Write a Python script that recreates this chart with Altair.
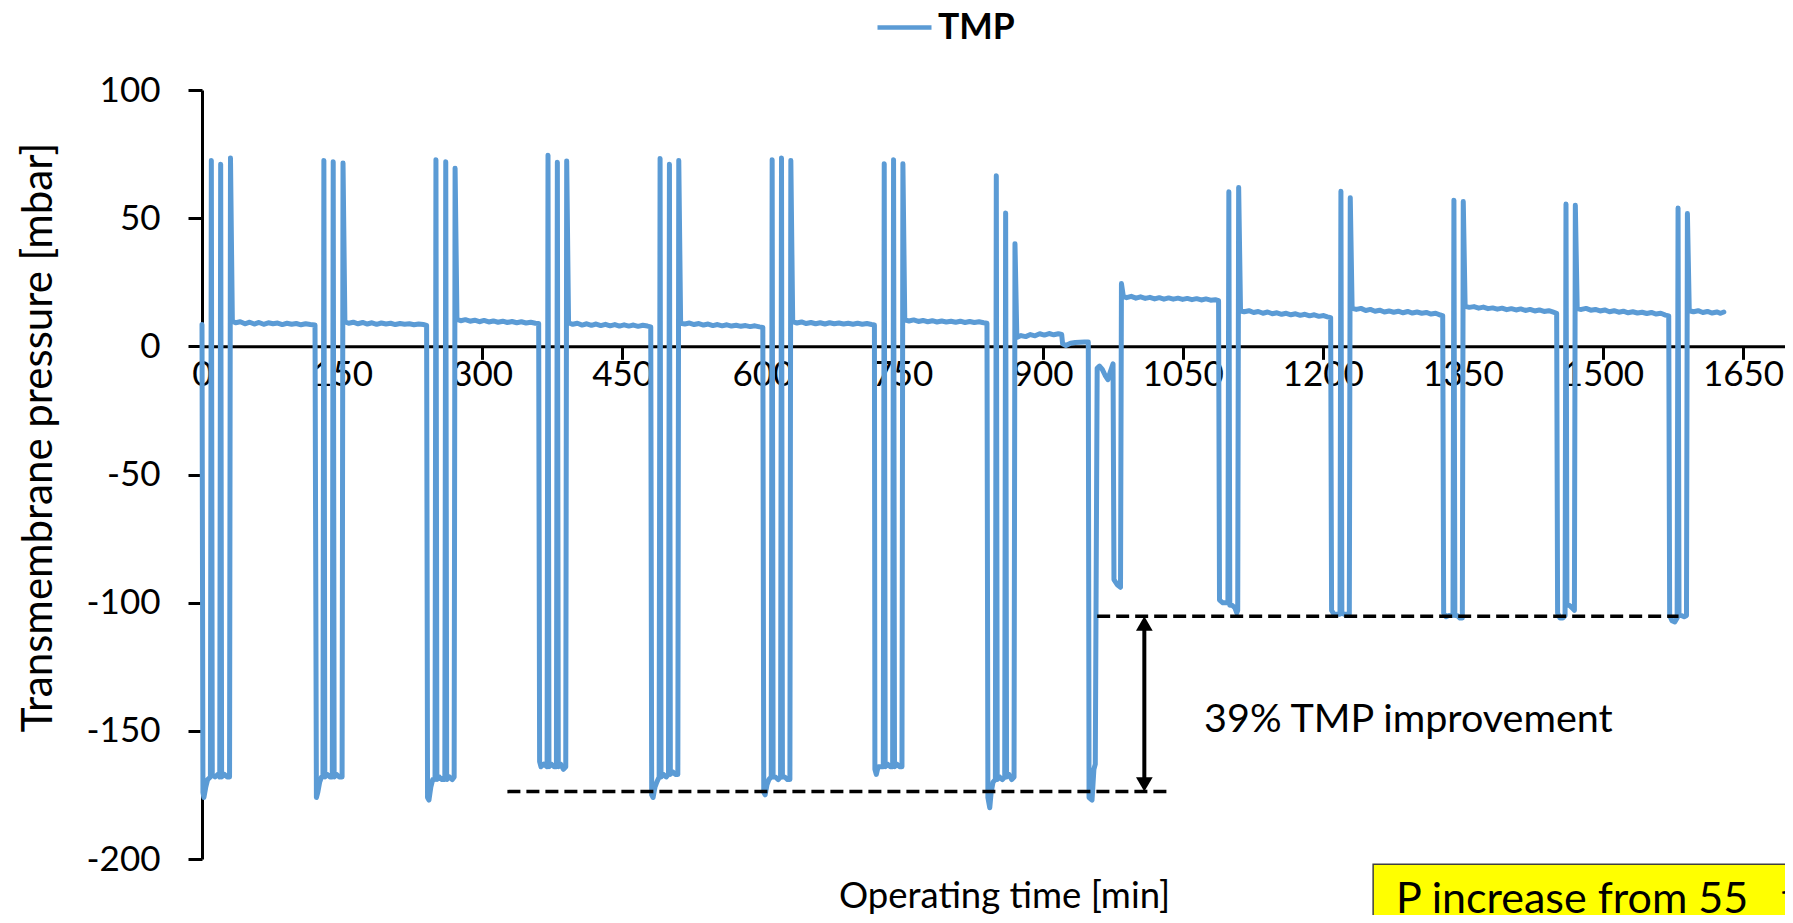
import altair as alt
import pandas as pd

# ---------------- data ----------------
x_ticks = [0, 150, 300, 450, 600, 750, 900, 1050, 1200, 1350, 1500, 1650]
y_ticks = [-200, -150, -100, -50, 0, 50, 100]

c1_t = [0, 1, 2, 4, 6, 9, 10, 11, 14, 17, 19, 20, 21, 24, 27, 29.5, 30.5, 32.5,
        36, 41, 46, 51, 56, 61, 66, 71, 76, 81, 86, 91, 96, 101, 106, 111, 116, 121]
c1_v = [8.5, -174, -176, -172, -169, -168, 72.5, -167, -168, -167, -168, 71, -168, -167, -168, -168, 73.5, 9.8,
        9.2, 9.6, 8.8, 9.4, 8.7, 9.3, 8.6, 9.2, 8.8, 9.1, 8.5, 9.0, 8.6, 8.9, 8.4, 8.8, 8.5, 8.3]

c2_t = [122.5, 124, 126, 128, 129.5, 130.5, 131.5, 134, 137, 139.5, 140.5, 141.5, 144, 147, 150, 151, 153,
        157, 162, 167, 172, 177, 182, 187, 192, 197, 202, 207, 212, 217, 222, 227, 232, 237, 240.5]
c2_v = [-176, -174, -170, -168, -168, 72.5, -168, -167, -168, -168, 72, -168, -167, -168, -168, 71.5, 9.6,
        9.0, 9.4, 8.8, 9.3, 8.7, 9.2, 8.6, 9.1, 8.7, 9.0, 8.5, 8.9, 8.6, 8.8, 8.4, 8.7, 8.5, 8.2]

c3_t = [241.5, 243, 245, 247, 249.5, 250.5, 251.5, 254, 257, 260, 261, 262, 265, 268, 270, 271, 273,
        277, 282, 287, 292, 297, 302, 307, 312, 317, 322, 327, 332, 337, 342, 347, 352, 357, 360.5]
c3_v = [-176, -177, -172, -169, -169, 72.8, -169, -168, -169, -169, 72, -169, -168, -169, -168, 69.5, 10.5,
        10.0, 10.4, 9.8, 10.2, 9.6, 10.1, 9.5, 9.9, 9.4, 9.8, 9.3, 9.7, 9.2, 9.6, 9.1, 9.4, 9.0, 8.9]

c4_t = [361.5, 363, 366, 369.5, 370.5, 371.5, 374, 377, 379.5, 380.5, 381.5, 384, 387, 389.5, 390.5, 392.5,
        397, 402, 407, 412, 417, 422, 427, 432, 437, 442, 447, 452, 457, 462, 467, 472, 477, 480.5]
c4_v = [-162, -164, -163, -164, 74.5, -164, -163, -164, -164, 71.8, -164, -163, -165, -164, 72.3, 9.2,
        8.6, 9.0, 8.3, 8.8, 8.2, 8.7, 8.1, 8.6, 8.0, 8.5, 7.9, 8.4, 7.9, 8.3, 7.8, 8.2, 7.9, 7.6]

c5_t = [481.5, 483, 485, 487, 489.5, 490.5, 491.5, 494, 497, 499.5, 500.5, 501.5, 504, 507, 509.5, 510.5, 512.5,
        517, 522, 527, 532, 537, 542, 547, 552, 557, 562, 567, 572, 577, 582, 587, 592, 597, 600.5]
c5_v = [-175, -176, -172, -170, -168, 73.3, -168, -167, -168, -167, 71, -167, -166, -167, -167, 72.5, 9.0,
        8.7, 9.1, 8.5, 8.9, 8.3, 8.7, 8.1, 8.5, 8.0, 8.4, 7.9, 8.2, 7.8, 8.1, 7.7, 8.0, 7.6, 7.4]

c6_t = [601.5, 603, 605, 607, 609.5, 610.5, 611.5, 614, 617, 619.5, 620.5, 621.5, 624, 627, 629.5, 630.5, 632.5,
        637, 642, 647, 652, 657, 662, 667, 672, 677, 682, 687, 692, 697, 702, 707, 712, 717, 720]
c6_v = [-174, -175, -171, -169, -168, 72.8, -168, -168, -169, -168, 73.5, -168, -168, -169, -169, 72.5, 9.6,
        9.1, 9.5, 8.9, 9.3, 8.8, 9.2, 8.7, 9.2, 8.8, 9.1, 8.7, 9.0, 8.6, 9.0, 8.6, 8.9, 8.5, 8.3]

c7_t = [720.5, 722, 724, 727, 729.5, 730.5, 731.5, 734, 737, 739.5, 740.5, 741.5, 744, 747, 749.5, 750.5, 752.5,
        757, 762, 767, 772, 777, 782, 787, 792, 797, 802, 807, 812, 817, 822, 827, 832, 837, 840.5]
c7_v = [-165, -167, -164, -164, -164, 71.2, -164, -163, -164, -164, 72.8, -164, -163, -164, -164, 71.2, 10.3,
        9.9, 10.3, 9.7, 10.1, 9.6, 10.0, 9.5, 9.9, 9.5, 9.8, 9.4, 9.8, 9.3, 9.7, 9.3, 9.6, 9.2, 9.0]

c8_t = [841.5, 843.5, 845, 847, 849.5, 850.5, 851.5, 854, 857, 859.5, 860.5, 861.5, 864, 867, 869.5, 870.5, 872.5,
        877, 882, 887, 892, 897, 902, 907, 912, 917, 920.5, 921.5, 925, 930, 935, 940, 945, 949]
c8_v = [-176, -180, -174, -170, -169, 66.5, -169, -168, -169, -168, 52, -168, -167, -169, -168, 40, 3.5,
        4.2, 3.8, 4.6, 4.1, 4.9, 4.4, 5.0, 4.5, 4.9, 4.6, 1.0, 0.3, 1.2, 1.5, 1.6, 1.7, 1.7]

trans_t = [949.8, 953, 955, 956.5, 958.5, 961, 964, 967, 970, 972.5, 975.5, 976.5, 980, 983.5, 984.5, 986.5]
trans_v = [-176, -177, -165, -163, -8.6, -7.7, -9, -11.3, -13, -10, -6.8, -91, -93, -94, 24.5, 19.5]

p8b_t = [990, 995, 1000, 1005, 1010, 1015, 1020, 1025, 1030, 1035, 1040, 1045, 1050, 1055, 1060, 1065,
         1070, 1075, 1080, 1085, 1088.5]
p8b_v = [19.0, 19.5, 18.8, 19.3, 18.7, 19.1, 18.5, 19.0, 18.4, 18.9, 18.4, 18.8, 18.3, 18.7, 18.2, 18.6,
         18.1, 18.5, 18.0, 18.2, 17.8]

c9_t = [1089.5, 1093, 1096, 1098.5, 1099.5, 1100.5, 1103, 1106, 1108, 1109, 1110, 1112,
        1116, 1121, 1126, 1131, 1136, 1141, 1146, 1151, 1156, 1161, 1166, 1171, 1176, 1181, 1186, 1191,
        1196, 1201, 1205, 1208.5]
c9_v = [-99, -100, -100, -100, 60.3, -101, -101, -102, -104, -103, 62, 13.8,
        13.5, 13.9, 13.2, 13.6, 12.9, 13.4, 12.7, 13.1, 12.5, 12.9, 12.3, 12.7, 12.1, 12.5, 11.9, 12.3,
        11.7, 12.0, 11.5, 11.2]

c10_t = [1209.5, 1212, 1215, 1218.5, 1219.5, 1220.5, 1223, 1226, 1228.5, 1229.5, 1231.5,
         1236, 1241, 1246, 1251, 1256, 1261, 1266, 1271, 1276, 1281, 1286, 1291, 1296, 1301, 1306, 1311,
         1316, 1321, 1326, 1328.5]
c10_v = [-103, -104.5, -104.5, -104.5, 60.5, -104, -104.5, -104.5, -104.5, 58, 14.8,
         14.4, 14.8, 14.0, 14.4, 13.7, 14.1, 13.4, 13.8, 13.3, 13.7, 13.1, 13.6, 13.0, 13.4, 12.9, 13.2,
         12.6, 12.9, 12.2, 12.0]

c11_t = [1329.5, 1332, 1335, 1339.5, 1340.5, 1341.5, 1344, 1347, 1349.5, 1350.5, 1352.5,
         1357, 1362, 1367, 1372, 1377, 1382, 1387, 1392, 1397, 1402, 1407, 1412, 1417, 1422, 1427, 1432,
         1437, 1442, 1447, 1450.5]
c11_v = [-104, -105.5, -105, -105, 57, -105, -105, -106, -106, 56.5, 15.6,
         15.2, 15.5, 14.9, 15.3, 14.7, 15.0, 14.5, 14.9, 14.3, 14.7, 14.2, 14.6, 14.0, 14.4, 13.8, 14.2,
         13.6, 13.9, 13.3, 12.9]

c12_t = [1451.5, 1454, 1457, 1459.5, 1460.5, 1461.5, 1464, 1467, 1469.5, 1470.5, 1472.5,
         1477, 1482, 1487, 1492, 1497, 1502, 1507, 1512, 1517, 1522, 1527, 1532, 1537, 1542, 1547, 1552,
         1557, 1562, 1567, 1570.5]
c12_v = [-104, -106, -106, -105, 55.5, -101, -101, -102, -103, 55, 14.7,
         14.4, 14.8, 14.1, 14.4, 13.8, 14.2, 13.5, 13.9, 13.3, 13.7, 13.1, 13.5, 13.0, 13.3, 12.8, 13.2,
         12.6, 12.9, 12.2, 11.9]

c13_t = [1571.5, 1574, 1577, 1579.5, 1580.5, 1581.5, 1584, 1587, 1589.5, 1590.5, 1592.5,
         1597, 1602, 1607, 1612, 1617, 1622, 1626, 1629.5]
c13_v = [-105, -107, -107.5, -106, 54, -105, -105, -105.5, -105, 51.8, 13.9,
         13.5, 13.9, 13.2, 13.6, 13.0, 13.4, 12.9, 13.4]

# annotations
dash_t = [327, 958.5]
dash_t2 = [1034, 1581]
dash_v = [-173.7, -105.3]
arrow_t = 1009
arrow_top = -105.3
arrow_bottom = -173.7
note_text = "39% TMP improvement"
note_t = 1073
note_v = -150.3
box_t, box_t2, box_v, box_v2 = 1254, 1800, -202, -240
box_text = "P increase from 55\u00a0\u00a0\u00a0to"
box_text_t, box_text_v = 1278.5, -221

# ---------------- build tables ----------------
all_t = (c1_t + c2_t + c3_t + c4_t + c5_t + c6_t + c7_t + c8_t + trans_t + p8b_t
         + c9_t + c10_t + c11_t + c12_t + c13_t)
all_v = (c1_v + c2_v + c3_v + c4_v + c5_v + c6_v + c7_v + c8_v + trans_v + p8b_v
         + c9_v + c10_v + c11_v + c12_v + c13_v)
line_df = pd.DataFrame({"t": all_t, "v": all_v, "series": "TMP"})
dash_df = pd.DataFrame({"t": dash_t, "t2": dash_t2, "v": dash_v})
shaft_df = pd.DataFrame({"t": [arrow_t], "v": [arrow_top - 3], "v2": [arrow_bottom + 3]})
up_df = pd.DataFrame({"t": [arrow_t], "v": [arrow_top]})
down_df = pd.DataFrame({"t": [arrow_t], "v": [arrow_bottom]})
note_df = pd.DataFrame({"t": [note_t], "v": [note_v], "label": [note_text]})
box_df = pd.DataFrame({"t": [box_t], "t2": [box_t2], "v": [box_v], "v2": [box_v2]})
box_text_df = pd.DataFrame({"t": [box_text_t], "v": [box_text_v], "label": [box_text]})

# ---------------- styling ----------------
FONT = "Lato"
W, H = 1583, 769
BLUE = "#5B9BD5"

x_scale = alt.Scale(domain=[0, 1695], nice=False, zero=False)
y_scale = alt.Scale(domain=[-200, 100], nice=False, zero=False)

x_axis = alt.Axis(
    values=x_ticks, offset=-H * 2 / 3, grid=False, labelExpr="datum.value + ''",
    domainColor="black", domainWidth=3, tickColor="black", tickWidth=3, tickSize=13,
    labelFont=FONT, labelFontSize=35, labelColor="black", labelBaseline="alphabetic",
    labelPadding=26, labelFlush=False, labelOverlap=False,
    title="Operating time [min]", titleFont=FONT, titleFontSize=36.5, titleFontWeight="normal",
    titleColor="black", titleX=802, titleY=561, titleBaseline="alphabetic", titleAlign="center",
)
y_axis = alt.Axis(
    values=y_ticks, grid=False, labelExpr="datum.value + ''",
    domainColor="black", domainWidth=3, tickColor="black", tickWidth=3, tickSize=14,
    labelFont=FONT, labelFontSize=35, labelColor="black", labelPadding=28, labelOverlap=False,
    title="Transmembrane pressure [mbar]", titleFont=FONT, titleFontSize=42, titleFontWeight="normal",
    titleColor="black", titleX=-151, titleY=347, titleAngle=270, titleBaseline="alphabetic",
    titleAlign="center",
)

X = alt.X("t:Q", scale=x_scale, axis=x_axis)
Y = alt.Y("v:Q", scale=y_scale, axis=y_axis)

line = alt.Chart(line_df).mark_line(strokeWidth=5, strokeJoin="round", strokeCap="round").encode(
    x=X, y=Y,
    color=alt.Color(
        "series:N", scale=alt.Scale(domain=["TMP"], range=[BLUE]),
        legend=alt.Legend(
            title=None, orient="none", legendX=673, legendY=-92, padding=0,
            symbolType="stroke", symbolSize=2916, symbolStrokeWidth=4.5,
            labelFont=FONT, labelFontSize=35.5, labelFontWeight="bold", labelColor="black",
            labelOffset=4,
        ),
    ),
)

dashes = alt.Chart(dash_df).mark_rule(color="black", strokeWidth=3.5, strokeDash=[13, 6]).encode(
    x=X, x2=alt.X2("t2:Q"), y=Y
)
shaft = alt.Chart(shaft_df).mark_rule(color="black", strokeWidth=4).encode(
    x=X, y=Y, y2=alt.Y2("v2:Q")
)
head_up = alt.Chart(up_df).mark_point(
    shape="triangle-up", filled=True, size=279, color="black", opacity=1, strokeWidth=0, yOffset=7.2
).encode(x=X, y=Y)
head_down = alt.Chart(down_df).mark_point(
    shape="triangle-down", filled=True, size=279, color="black", opacity=1, strokeWidth=0, yOffset=-7.2
).encode(x=X, y=Y)
note = alt.Chart(note_df).mark_text(
    align="left", baseline="alphabetic", font=FONT, fontSize=39.5, color="black"
).encode(x=X, y=Y, text="label:N")
box = alt.Chart(box_df).mark_rect(fill="#FFFF00", stroke="#404040", strokeWidth=1.5).encode(
    x=X, x2=alt.X2("t2:Q"), y=Y, y2=alt.Y2("v2:Q")
)
box_label = alt.Chart(box_text_df).mark_text(
    align="left", baseline="alphabetic", font=FONT, fontSize=43, color="black"
).encode(x=X, y=Y, text="label:N")

chart = alt.layer(line, dashes, shaft, head_up, head_down, note, box, box_label).properties(
    width=W, height=H,
    autosize=alt.AutoSizeParams(type="none"),
    padding={"left": 194, "top": 82, "right": 0, "bottom": 56},
).configure_view(stroke=None)

chart.save("out.html", embed_options={"renderer": "svg", "actions": False})
